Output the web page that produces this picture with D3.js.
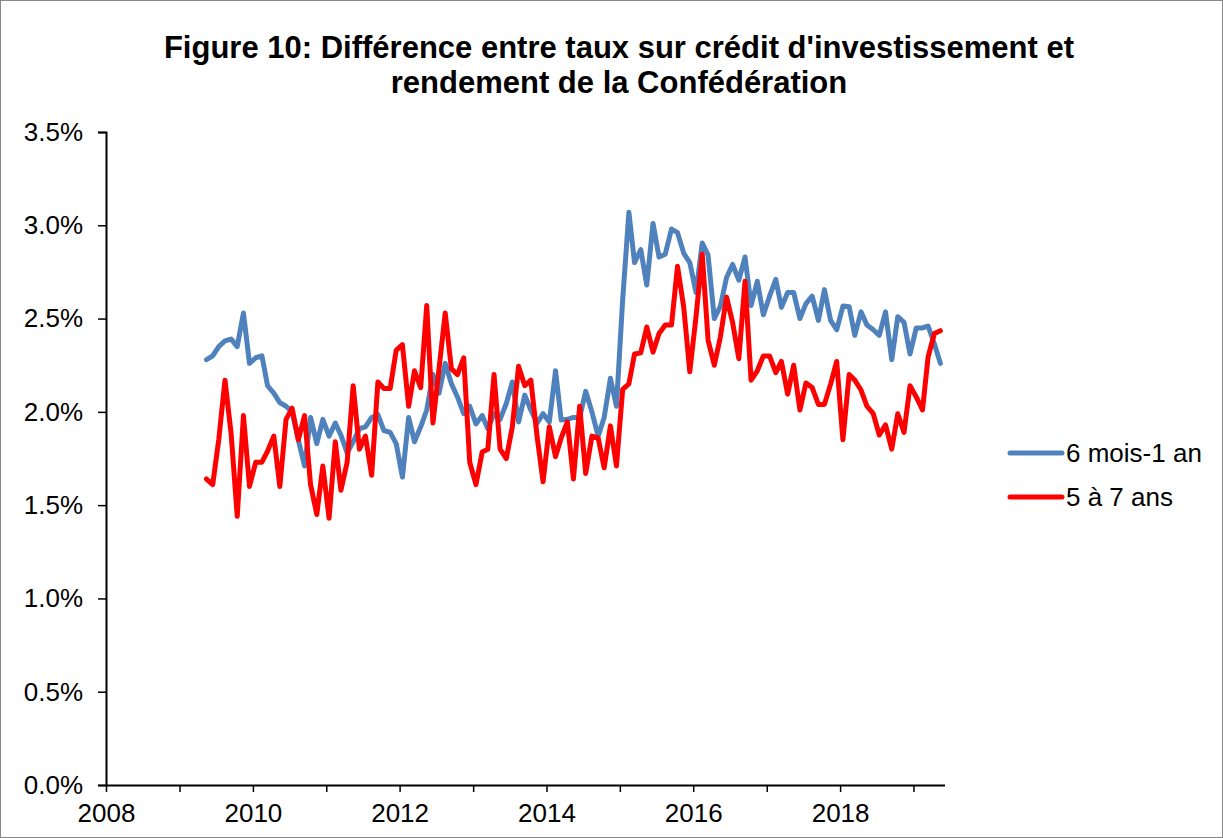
<!DOCTYPE html>
<html>
<head>
<meta charset="utf-8">
<script src="https://cdn.jsdelivr.net/npm/d3@7"></script>
<style>
    body { margin: 0; background: #fff; }
    svg { display: block; font-family: "Liberation Sans", Arial, sans-serif; }
</style>
</head>
<body>
<svg id="chart" width="1223" height="838"></svg>
<script>
// Monthly observations, May 2009 to May 2019 (plotted mid-month)
const firstMonth = new Date(2009, 4, 1);
const endMonth = new Date(2019, 5, 1);

const seriesNames = ['6 mois-1 an', '5 à 7 ans'];
const seriesColors = ['#4F81BD', '#FF0000'];

// 6 mois-1 an (%)
const shortRate = [
    2.28, 2.30, 2.35, 2.38, 2.39, 2.35, 2.53, 2.26, 2.29, 2.30,
    2.14, 2.10, 2.05, 2.03, 2.00, 1.85, 1.71, 1.97, 1.83, 1.96,
    1.87, 1.94, 1.875, 1.78, 1.84, 1.91, 1.92, 1.97, 1.985, 1.90,
    1.89, 1.83, 1.65, 1.97, 1.84, 1.92, 2.01, 2.20, 2.10, 2.26,
    2.15, 2.08, 1.99, 2.03, 1.935, 1.98, 1.91, 1.99, 1.96, 2.045,
    2.16, 1.946, 2.09, 2.01, 1.94, 1.99, 1.946, 2.22, 1.956, 1.96,
    1.97, 1.97, 2.11, 2.00, 1.87, 1.97, 2.18, 2.03, 2.60, 3.07,
    2.80, 2.87, 2.68, 3.01, 2.83, 2.845, 2.98, 2.96, 2.85, 2.80,
    2.64, 2.905, 2.84, 2.50, 2.565, 2.72, 2.79, 2.706, 2.83, 2.57,
    2.70, 2.52, 2.62, 2.71, 2.56, 2.64, 2.64, 2.50, 2.58, 2.62,
    2.49, 2.655, 2.49, 2.44, 2.567, 2.563, 2.41, 2.536, 2.465, 2.44,
    2.41, 2.536, 2.28, 2.51, 2.48, 2.31, 2.45, 2.45, 2.46, 2.365, 2.26
];

// 5 à 7 ans (%)
const longRate = [
    1.64, 1.61, 1.85, 2.17, 1.88, 1.44, 1.98, 1.60, 1.73, 1.73,
    1.79, 1.87, 1.60, 1.96, 2.02, 1.85, 1.98, 1.61, 1.45, 1.71,
    1.43, 1.84, 1.58, 1.73, 2.14, 1.80, 1.87, 1.66, 2.16, 2.125,
    2.125, 2.33, 2.36, 2.03, 2.22, 2.13, 2.57, 1.94, 2.23, 2.53,
    2.23, 2.20, 2.29, 1.73, 1.61, 1.785, 1.80, 2.20, 1.80, 1.75,
    1.92, 2.245, 2.14, 2.17, 1.87, 1.625, 1.92, 1.76, 1.86, 1.946,
    1.64, 2.03, 1.67, 1.87, 1.86, 1.70, 1.925, 1.71, 2.12, 2.15,
    2.31, 2.316, 2.455, 2.32, 2.42, 2.465, 2.465, 2.78, 2.56, 2.215,
    2.51, 2.845, 2.385, 2.25, 2.40, 2.615, 2.48, 2.285, 2.70, 2.17,
    2.22, 2.30, 2.30, 2.21, 2.27, 2.095, 2.25, 2.01, 2.155, 2.13,
    2.04, 2.04, 2.15, 2.27, 1.85, 2.20, 2.17, 2.117, 2.03, 1.99,
    1.876, 1.93, 1.80, 1.99, 1.89, 2.14, 2.08, 2.01, 2.295, 2.42, 2.435
];

const yTicks = [0, 0.5, 1, 1.5, 2, 2.5, 3, 3.5];

const svg = d3.select('#chart');

// Outer frame
svg.append('rect')
    .attr('x', 0.5).attr('y', 0.5)
    .attr('width', 1222).attr('height', 837)
    .attr('fill', 'none')
    .attr('stroke', '#888')
    .attr('stroke-width', 1);

// Title
const title = svg.append('text')
    .attr('text-anchor', 'middle')
    .attr('font-size', 31)
    .attr('font-weight', 'bold')
    .attr('fill', '#000');
title.append('tspan').attr('x', 619).attr('y', 58)
    .text("Figure 10: Différence entre taux sur crédit d'investissement et");
title.append('tspan').attr('x', 619).attr('y', 93)
    .text('rendement de la Confédération');

// Scales
const x = d3.scaleTime()
    .domain([new Date(2008, 0, 1), new Date(2019, 5, 7)])
    .range([106, 945]);

const y = d3.scaleLinear()
    .domain([0, 3.5])
    .range([785, 132]);

const months = d3.timeMonth.range(firstMonth, endMonth)
    .map(d => d3.timeDay.offset(d, 14));

// Y axis
const yAxis = svg.append('g')
    .attr('transform', 'translate(106,0)')
    .call(d3.axisLeft(y)
        .tickValues(yTicks)
        .tickSize(8)
        .tickPadding(15)
        .tickFormat(d => d.toFixed(1) + '%'));

// X axis
const xAxis = svg.append('g')
    .attr('transform', 'translate(0,785)')
    .call(d3.axisBottom(x)
        .ticks(d3.timeYear.every(1))
        .tickSize(7)
        .tickPadding(12)
        .tickFormat(d => d.getFullYear() % 2 === 0 ? d.getFullYear() : ''));

[yAxis, xAxis].forEach(ax => {
    ax.select('.domain').attr('stroke', '#000').attr('stroke-width', 2);
    ax.selectAll('.tick line').attr('stroke', '#000').attr('stroke-width', 1.5);
    ax.selectAll('.tick text')
        .attr('font-size', 26)
        .attr('font-family', '"Liberation Sans", Arial, sans-serif')
        .attr('fill', '#000');
});
xAxis.select('.domain').attr('d', 'M106,0.5H945');

// Lines
const line = d3.line()
    .x((d, i) => x(months[i]))
    .y(d => y(d));

[shortRate, longRate].forEach((values, i) => {
    svg.append('path')
        .datum(values)
        .attr('fill', 'none')
        .attr('stroke', seriesColors[i])
        .attr('stroke-width', 5)
        .attr('stroke-linejoin', 'round')
        .attr('stroke-linecap', 'round')
        .attr('d', line);
});

// Legend
const legend = svg.append('g').attr('transform', 'translate(1010,453)');
seriesNames.forEach((name, i) => {
    const row = legend.append('g').attr('transform', `translate(0,${i * 44})`);
    row.append('line')
        .attr('x1', 0).attr('x2', 52)
        .attr('y1', 0).attr('y2', 0)
        .attr('stroke', seriesColors[i])
        .attr('stroke-width', 5)
        .attr('stroke-linecap', 'round');
    row.append('text')
        .attr('x', 56).attr('y', 9)
        .attr('font-size', 26)
        .attr('fill', '#000')
        .text(name);
});
</script>
</body>
</html>
